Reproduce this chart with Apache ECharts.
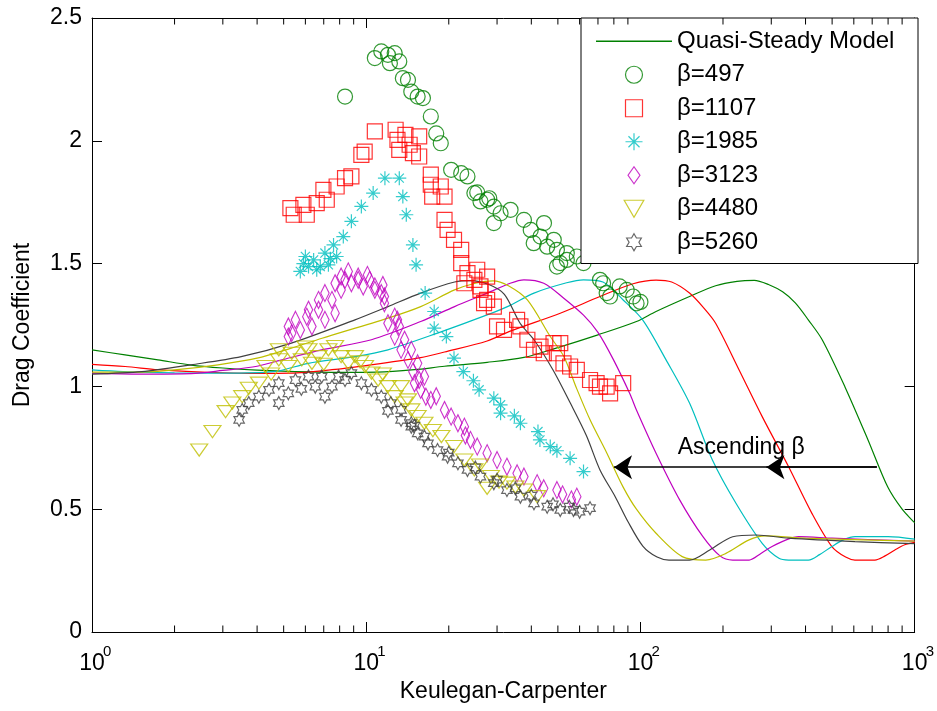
<!DOCTYPE html>
<html><head><meta charset="utf-8">
<script src="https://cdn.jsdelivr.net/npm/echarts@6/dist/echarts.min.js"></script>
<style>html,body{margin:0;padding:0;background:#fff}#c{width:937px;height:711px}</style>
</head><body><div id="c"></div>
<script>
const FONT = "'Liberation Sans', Arial, Helvetica, sans-serif";
const X_MIN = 1, X_MAX = 1000, Y_MIN = 0, Y_MAX = 2.5, Y_STEP = 0.5;
const MINOR_TICKS = [2,3,4,5,6,7,8,9,20,30,40,50,60,70,80,90,200,300,400,500,600,700,800,900];
const MODEL_NAME = 'Quasi-Steady Model';
const SERIES_NAMES = ['β=497','β=1107','β=1985','β=3123','β=4480','β=5260'];
const X_NAME = 'Keulegan-Carpenter';
const Y_NAME = 'Drag Coefficient';
const ANNOT_TEXT = 'Ascending β';
const ANNOT_TEXT_POS = [136.8, 0.75];
const ARROW_Y = 0.671, ARROW_START = 728, ARROW_END1 = 80.1, ARROW_END2 = 288;

// Quasi-steady model curves (KC, Cd)
const MODEL_497 = [[1,1.149],[1.32,1.128],[1.74,1.108],[2.3,1.087],[3,1.075],[4,1.066],[5.5,1.06],[8,1.057],[11,1.058],[15,1.068],[19.3,1.082],[27.6,1.098],[37.6,1.118],[49.6,1.157],[70,1.21],[96.7,1.264],[114,1.305],[151,1.366],[188,1.41],[225,1.428],[260,1.432],[293,1.415],[330,1.385],[367,1.34],[410,1.27],[460,1.19],[557,0.998],[676,0.782],[798,0.59],[900,0.5],[1000,0.445]];
const MODEL_1107 = [[1,1.09],[1.32,1.081],[1.74,1.068],[2.3,1.06],[3.04,1.055],[4,1.053],[5.3,1.054],[7.5,1.068],[10.4,1.088],[15.8,1.117],[19.3,1.14],[27.6,1.185],[33.5,1.225],[51,1.298],[71.2,1.366],[94,1.418],[114,1.433],[130,1.425],[151,1.38],[170,1.32],[188,1.257],[229,1.067],[278,0.877],[347,0.673],[422,0.483],[499,0.348],[560,0.305],[606,0.293],[716,0.293],[780,0.31],[847,0.334],[920,0.355],[1000,0.365]];
const MODEL_1985 = [[1,1.067],[1.3,1.06],[2,1.055],[3,1.054],[4.6,1.06],[6.15,1.094],[9.1,1.121],[12,1.149],[18.2,1.217],[27.6,1.291],[33.5,1.33],[40.9,1.38],[53.8,1.422],[62,1.434],[73,1.425],[86.5,1.352],[102,1.27],[124,1.108],[151,0.932],[183,0.70],[223,0.524],[278,0.361],[320,0.30],[347,0.293],[410,0.293],[450,0.315],[499,0.348],[550,0.375],[606,0.388],[800,0.388],[1000,0.378]];
const MODEL_3123 = [[1,1.054],[1.5,1.05],[2.3,1.052],[3,1.065],[4,1.082],[5,1.11],[6.88,1.149],[10.45,1.19],[15.8,1.264],[21,1.325],[27.6,1.38],[33.5,1.42],[37.6,1.434],[44.4,1.42],[52.4,1.36],[62,1.29],[70,1.22],[79.6,1.11],[91.5,0.97],[96.7,0.904],[114,0.728],[139,0.538],[169,0.388],[195,0.31],[217,0.293],[249,0.293],[275,0.32],[302,0.348],[340,0.375],[378,0.388],[500,0.382],[1000,0.37]];
const MODEL_4480 = [[1,1.058],[1.5,1.058],[2,1.067],[2.88,1.088],[4,1.115],[5.3,1.155],[6.9,1.196],[12,1.278],[15.8,1.325],[21,1.393],[25,1.42],[29,1.43],[33,1.41],[38.7,1.352],[46.9,1.203],[52.6,1.121],[58.6,0.99],[65.5,0.864],[75.3,0.73],[86.5,0.59],[96.7,0.50],[114,0.402],[142,0.307],[173,0.293],[205,0.32],[249,0.375],[285,0.391],[400,0.382],[1000,0.37]];
const MODEL_5260 = [[1,1.05],[1.52,1.06],[2.3,1.088],[3.5,1.121],[5.3,1.175],[9.1,1.271],[12,1.325],[15.8,1.38],[21,1.425],[24,1.431],[28,1.415],[31.9,1.375],[36.4,1.257],[40.9,1.19],[48,1.067],[55.5,0.932],[63.5,0.8],[71.2,0.66],[81,0.55],[90,0.45],[102,0.35],[115,0.305],[127,0.293],[151,0.293],[179,0.334],[217,0.388],[264,0.395],[347,0.382],[606,0.368],[1000,0.36]];

// Experimental data (KC, Cd)
const DATA_497 = [[8.37,2.18],[10.75,2.337],[11.35,2.364],[12.0,2.35],[12.7,2.357],[12.2,2.316],[13.2,2.323],[13.6,2.255],[14.2,2.248],[14.6,2.2],[15.4,2.18],[16.1,2.174],[17.2,2.099],[18.0,2.03],[18.7,1.99],[20.4,1.882],[22.2,1.868],[23.4,1.855],[24.8,1.787],[25.4,1.79],[26.1,1.753],[27.6,1.76],[28.1,1.766],[29.2,1.732],[29.2,1.665],[30.9,1.705],[33.6,1.719],[37.6,1.678],[39.8,1.637],[40.8,1.583],[43.2,1.61],[44.5,1.665],[45.7,1.569],[48.3,1.597],[49.6,1.556],[49.6,1.488],[51,1.502],[53.9,1.543],[53.9,1.515],[58.6,1.529],[62,1.502],[71.2,1.434],[73.1,1.42],[75.3,1.38],[77.5,1.366],[84.0,1.407],[89.1,1.393],[94.1,1.366],[96.8,1.338],[100,1.344]];
const DATA_1107 = [[5.29,1.726],[5.44,1.699],[5.9,1.739],[6.07,1.699],[6.6,1.746],[6.98,1.8],[7.18,1.76],[7.8,1.814],[8.37,1.848],[8.83,1.855],[9.6,1.943],[9.87,1.956],[10.75,2.038],[12.8,2.045],[13.0,2.004],[13.2,1.963],[13.9,2.024],[14.4,1.984],[14.8,1.95],[15.6,2.018],[15.6,1.936],[17.2,1.862],[17.2,1.821],[17.4,1.773],[18.7,1.814],[19.3,1.773],[19.3,1.678],[19.8,1.637],[20.9,1.597],[22.2,1.556],[22.2,1.502],[23.4,1.461],[24.8,1.434],[25.4,1.475],[27.6,1.447],[26.1,1.393],[22.8,1.42],[26.1,1.407],[27.6,1.352],[29.2,1.325],[26.9,1.339],[30.0,1.244],[31.8,1.23],[35.5,1.271],[36.5,1.244],[38.7,1.19],[40.9,1.149],[43.2,1.162],[44.4,1.135],[48.2,1.176],[49.6,1.135],[51,1.176],[52.4,1.094],[55.4,1.081],[58.6,1.067],[65.5,1.026],[69.2,1.013],[71.2,0.999],[75.3,0.999],[77.5,0.972],[86.5,1.013]];
const DATA_1985 = [[5.75,1.468],[5.9,1.5],[6.0,1.529],[6.16,1.488],[6.43,1.515],[6.6,1.475],[6.8,1.488],[7.07,1.543],[7.28,1.495],[7.4,1.52],[7.6,1.576],[7.8,1.529],[8.25,1.61],[8.83,1.672],[9.6,1.733],[10.6,1.787],[11.7,1.848],[13.2,1.848],[13.6,1.773],[14.0,1.699],[14.8,1.576],[15.2,1.495],[16.4,1.38],[17.7,1.305],[17.7,1.237],[19.6,1.203],[20.9,1.115],[22.6,1.06],[24.6,1.023],[25.8,0.986],[29.2,0.952],[30.9,0.925],[30.9,0.891],[34.7,0.88],[36.5,0.85],[42.3,0.816],[43,0.782],[46.9,0.755],[49.6,0.738],[55.4,0.707],[62,0.653]];
const DATA_3123 = [[5.2,1.244],[5.2,1.203],[5.35,1.217],[5.52,1.271],[5.75,1.23],[6.07,1.284],[6.16,1.312],[6.34,1.244],[6.7,1.312],[6.7,1.352],[7.07,1.271],[7.07,1.38],[7.5,1.352],[7.7,1.298],[7.7,1.42],[8.1,1.393],[8.1,1.447],[8.37,1.434],[8.6,1.468],[8.83,1.42],[9.35,1.447],[9.35,1.434],[9.75,1.407],[10.1,1.454],[10.3,1.434],[10.75,1.393],[10.75,1.407],[11.5,1.413],[11.35,1.38],[11.65,1.339],[11.65,1.366],[12.0,1.257],[12.7,1.284],[13.0,1.271],[12.7,1.203],[13.2,1.244],[13.4,1.149],[13.8,1.19],[14.2,1.108],[14.6,1.149],[14.8,1.06],[15.4,1.094],[15.6,1.026],[16.3,1.04],[15.0,1.013],[15.8,0.986],[16.5,0.958],[17.2,0.945],[18.0,0.96],[19.3,0.904],[20.4,0.877],[21.6,0.85],[22.8,0.836],[23.0,0.80],[24.0,0.782],[25.4,0.755],[27.6,0.728],[30,0.70],[32.6,0.673],[35.5,0.646],[37.6,0.633],[42,0.606],[44.4,0.585],[49.6,0.578],[52,0.56],[56,0.54],[58.6,0.551]];
const DATA_4480 = [[2.46,0.741],[2.75,0.816],[3.07,0.897],[3.25,0.932],[3.53,0.958],[3.73,0.992],[4.06,1.013],[4.29,1.081],[4.5,1.05],[4.8,1.108],[4.8,1.149],[5.2,1.081],[5.35,1.135],[5.82,1.108],[6.0,1.16],[6.16,1.149],[6.34,1.094],[6.7,1.121],[7.0,1.09],[7.28,1.149],[7.7,1.162],[8.1,1.121],[8.6,1.094],[9.1,1.121],[9.5,1.1],[9.9,1.081],[10.45,1.054],[11.05,1.026],[11.5,1.05],[12.0,0.999],[12.7,0.958],[13.4,0.999],[13.8,0.932],[14.2,0.945],[14.6,0.904],[15.4,0.877],[16.3,0.85],[17.5,0.82],[18.8,0.796],[20.9,0.755],[22.8,0.70],[24.8,0.66],[26,0.68],[27.6,0.585],[28.5,0.633],[30.5,0.61],[32.6,0.606],[35,0.59],[37.6,0.578],[42,0.551]];
const DATA_5260 = [[3.44,0.864],[3.53,0.904],[3.73,0.932],[4.06,0.958],[4.42,0.986],[4.8,1.013],[4.8,0.932],[5.2,0.972],[5.52,1.026],[5.8,0.99],[6.16,1.04],[6.52,0.999],[6.88,1.04],[7.07,0.958],[7.5,0.999],[7.93,1.04],[8.37,1.026],[8.83,1.054],[9.6,1.013],[10.45,0.986],[11.35,0.958],[12,0.9],[12.3,0.932],[13.4,0.904],[13.4,0.864],[14.6,0.85],[15,0.84],[14.6,0.836],[15.4,0.809],[16.3,0.796],[16.8,0.768],[18.2,0.741],[19.8,0.714],[20,0.73],[21.6,0.687],[23.4,0.66],[25,0.67],[26.1,0.633],[29.2,0.606],[30,0.62],[32.6,0.578],[35,0.585],[36.5,0.551],[40,0.555],[40.9,0.524],[45.7,0.51],[48,0.52],[51,0.497],[55,0.51],[57,0.497],[60,0.49],[65.5,0.504]];

const COLORS = ['#008000','#ff0000','#00bfbf','#bf00bf','#bfbf00','#404040'];
const MODELS = [MODEL_497, MODEL_1107, MODEL_1985, MODEL_3123, MODEL_4480, MODEL_5260];
const DATASETS = [DATA_497, DATA_1107, DATA_1985, DATA_3123, DATA_4480, DATA_5260];

const SYMBOLS = [
  {symbol:'circle', size:15},
  {symbol:'path://M-1,-1L1,-1L1,1L-1,1Z', size:15},
  {symbol:'path://M0,-10L0,10M-10,0L10,0M-6.5,-6.5L6.5,6.5M-6.5,6.5L6.5,-6.5', size:14},
  {symbol:'path://M0,-10L7,0L0,10L-7,0Z', size:[12,17]},
  {symbol:'path://M-10,-8.66L10,-8.66L0,8.66Z', size:[17,14]},
  {symbol:'path://M0,-10L2.887,-5L8.66,-5L5.774,0L8.66,5L2.887,5L0,10L-2.887,5L-8.66,5L-5.774,0L-8.66,-5L-2.887,-5Z', size:[12,13]}
];

const chart = echarts.init(document.getElementById('c'), null, {renderer:'canvas'});

const series = [];
MODELS.forEach((m, i) => {
  const s = {
    name: i === 0 ? MODEL_NAME : ('model ' + SERIES_NAMES[i]),
    type: 'line', data: m, showSymbol: false, symbol: 'none',
    smooth: 0.3, z: 2,
    lineStyle: {color: COLORS[i], width: 1.2},
    itemStyle: {color: COLORS[i]},
    silent: true
  };
  if (i === MODELS.length - 1) {
    s.markLine = {
      silent: true, symbol: ['none', 'arrow'], symbolSize: 18,
      label: {show: false},
      itemStyle: {color: '#000'},
      lineStyle: {color: '#000', width: 1.5, type: 'solid'},
      data: [
        [{coord: [ARROW_START, ARROW_Y]}, {coord: [ARROW_END1, ARROW_Y]}],
        [{coord: [ARROW_START, ARROW_Y]}, {coord: [ARROW_END2, ARROW_Y]}]
      ]
    };
    s.markPoint = {
      silent: true, symbol: 'circle', symbolSize: 0,
      label: {show: true, position: 'right', distance: 0, formatter: ANNOT_TEXT, color: '#000', fontSize: 23, fontFamily: FONT},
      data: [{coord: ANNOT_TEXT_POS}]
    };
  }
  series.push(s);
});
DATASETS.forEach((d, i) => {
  series.push({
    name: SERIES_NAMES[i], type: 'scatter', data: d, z: 3,
    symbol: SYMBOLS[i].symbol, symbolSize: SYMBOLS[i].size, symbolKeepAspect: true,
    itemStyle: {color: 'rgba(0,0,0,0)', borderColor: COLORS[i], borderWidth: 1.2},
    silent: true
  });
});
series.push({
  type: 'custom', coordinateSystem: 'cartesian2d', silent: true, z: 5,
  data: MINOR_TICKS.map(v => [v, Y_MIN]),
  renderItem: function (params, api) {
    const x = api.value(0);
    const pb = api.coord([x, Y_MIN]);
    const pt = api.coord([x, Y_MAX]);
    return {type: 'group', children: [
      {type: 'line', shape: {x1: pb[0], y1: pb[1], x2: pb[0], y2: pb[1] - 6.5}, style: {stroke: '#000', lineWidth: 1}},
      {type: 'line', shape: {x1: pt[0], y1: pt[1], x2: pt[0], y2: pt[1] + 6.5}, style: {stroke: '#000', lineWidth: 1}}
    ]};
  }
});

const axisLine = {show: true, onZero: false, lineStyle: {color: '#000', width: 1}};
const option = {
  animation: false,
  backgroundColor: '#fff',
  grid: {left: 92, right: 19, top: 18, bottom: 79, containLabel: false},
  xAxis: [
    {type: 'log', logBase: 10, min: X_MIN, max: X_MAX, position: 'bottom',
     axisLine: axisLine, axisTick: {inside: true, length: 10, lineStyle: {color: '#000'}},
     minorTick: {show: false}, splitLine: {show: false},
     axisLabel: {margin: 20, formatter: () => '10', fontSize: 23, fontFamily: FONT, color: '#000'},
     name: X_NAME, nameLocation: 'middle', nameGap: 47,
     nameTextStyle: {fontSize: 23, fontFamily: FONT, color: '#000'}},
    {type: 'log', logBase: 10, min: X_MIN, max: X_MAX, position: 'top',
     axisLine: axisLine, axisTick: {inside: true, length: 10, lineStyle: {color: '#000'}},
     axisLabel: {show: false}, splitLine: {show: false}},
    {type: 'log', logBase: 10, min: X_MIN, max: X_MAX, position: 'bottom',
     axisLine: {show: false}, axisTick: {show: false}, splitLine: {show: false},
     axisLabel: {margin: 12, align: 'left', padding: [0, 0, 0, 11],
       formatter: v => String(Math.round(Math.log10(v))), fontSize: 15, fontFamily: FONT, color: '#000'}}
  ],
  yAxis: [
    {type: 'value', min: Y_MIN, max: Y_MAX, interval: Y_STEP, position: 'left',
     axisLine: axisLine, axisTick: {inside: true, length: 10, lineStyle: {color: '#000'}},
     splitLine: {show: false},
     axisLabel: {margin: 10, fontSize: 23, fontFamily: FONT, color: '#000'},
     name: Y_NAME, nameLocation: 'middle', nameGap: 58,
     nameTextStyle: {fontSize: 23, fontFamily: FONT, color: '#000'}},
    {type: 'value', min: Y_MIN, max: Y_MAX, interval: Y_STEP, position: 'right',
     axisLine: axisLine, axisTick: {inside: true, length: 10, lineStyle: {color: '#000'}},
     splitLine: {show: false}, axisLabel: {show: false}}
  ],
  legend: {
    data: [{name: MODEL_NAME, icon: 'path://M0,0L10,0L10,0.2L0,0.2Z'}].concat(SERIES_NAMES.map(n => ({name: n}))),
    orient: 'vertical', left: 581, top: 18,
    padding: [11, 10, 9, 15],
    itemWidth: 76, itemHeight: 17, itemGap: 9,
    backgroundColor: '#fff', borderColor: '#000', borderWidth: 1,
    selectedMode: false,
    itemStyle: {borderWidth: 1.2},
    textStyle: {fontFamily: FONT, fontSize: 24, color: '#000', width: 231, lineHeight: 24.5}
  },
  series: series
};
chart.setOption(option);
</script>
</body></html>
